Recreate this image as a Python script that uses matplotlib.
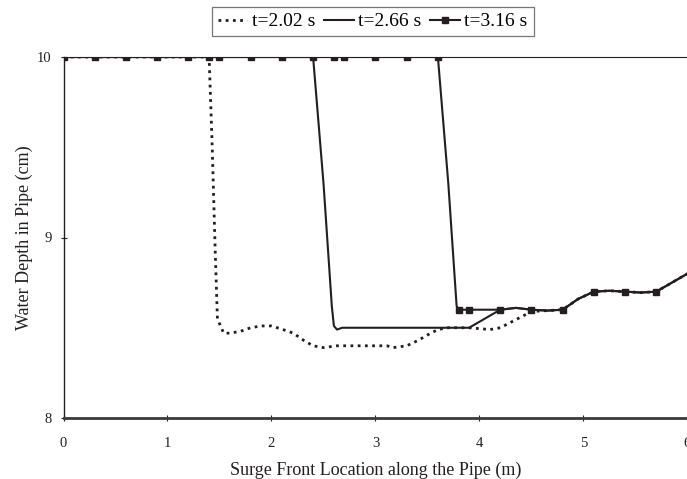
import matplotlib
matplotlib.use("Agg")
import matplotlib.pyplot as plt

plt.rcParams['font.family'] = ['Liberation Serif', 'DejaVu Serif']

# t = 2.02 s (dotted)
x202 = [0.0, 0.3, 0.6, 0.9, 1.2, 1.40, 1.43, 1.46, 1.48, 1.54, 1.60, 1.70, 1.80, 1.90, 2.00, 2.11,
        2.21, 2.31, 2.40, 2.50, 2.63, 2.80, 3.00, 3.11, 3.17, 3.30, 3.41, 3.50, 3.60, 3.70, 3.90,
        4.10, 4.20, 4.30, 4.40, 4.50, 4.65, 4.80, 4.95, 5.10, 5.25, 5.40, 5.55, 5.70, 5.85, 6.00]
y202 = [10.0, 10.0, 10.0, 10.0, 10.0, 10.0, 9.5, 8.9, 8.55, 8.47, 8.47, 8.48, 8.50, 8.51, 8.51, 8.49,
        8.47, 8.43, 8.40, 8.39, 8.40, 8.40, 8.40, 8.40, 8.39, 8.40, 8.43, 8.46, 8.49, 8.50, 8.50,
        8.49, 8.50, 8.53, 8.56, 8.59, 8.595, 8.60, 8.66, 8.70, 8.705, 8.70, 8.695, 8.70, 8.75, 8.80]

# t = 2.66 s (solid)
x266 = [0.0, 0.6, 1.2, 1.8, 2.4, 2.50, 2.58, 2.60, 2.63, 2.68, 3.00, 3.50, 3.90, 4.05, 4.20,
        4.35, 4.50, 4.65, 4.80, 4.95, 5.10, 5.25, 5.40, 5.55, 5.70, 5.85, 6.00]
y266 = [10.0, 10.0, 10.0, 10.0, 10.0, 9.3, 8.62, 8.51, 8.49, 8.50, 8.50, 8.50, 8.50, 8.55, 8.60,
        8.61, 8.60, 8.595, 8.60, 8.66, 8.70, 8.705, 8.70, 8.695, 8.70, 8.75, 8.80]

# t = 3.16 s (solid with square markers)
x316 = [0.0, 0.3, 0.6, 0.9, 1.2, 1.4, 1.5, 1.8, 2.1, 2.4, 2.6, 2.7, 3.0, 3.3, 3.6, 3.70, 3.78,
        3.8, 3.9, 4.2, 4.35, 4.5, 4.65, 4.8, 4.95, 5.1, 5.25, 5.4, 5.55, 5.7, 5.85, 6.0]
y316 = [10.0, 10.0, 10.0, 10.0, 10.0, 10.0, 10.0, 10.0, 10.0, 10.0, 10.0, 10.0, 10.0, 10.0, 10.0, 9.3, 8.62,
        8.60, 8.60, 8.60, 8.61, 8.60, 8.595, 8.60, 8.66, 8.70, 8.705, 8.70, 8.695, 8.70, 8.75, 8.80]
marker_x316 = [0.0, 0.3, 0.6, 0.9, 1.2, 1.4, 1.5, 1.8, 2.1, 2.4, 2.6, 2.7, 3.0, 3.3, 3.6,
               3.8, 3.9, 4.2, 4.5, 4.8, 5.1, 5.4, 5.7]

xticks = [0, 1, 2, 3, 4, 5, 6]
yticks = [8, 9, 10]
xlabel = "Surge Front Location along the Pipe (m)"
ylabel = "Water Depth in Pipe (cm)"
labels = ["t=2.02 s", "t=2.66 s", "t=3.16 s"]

col = '#231f20'
fig = plt.figure(figsize=(6.87, 4.79), dpi=100)
ax = fig.add_axes([63.5 / 687, 1 - 418 / 479, (687.5 - 63.5) / 687, (418 - 57) / 479])

marker_idx = [i for i, v in enumerate(x316)
              if v in marker_x316 and (y316[i] == 10.0 or v >= 3.8)]

l1, = ax.plot(x202, y202, color=col, lw=2.0, linestyle=(0, (1, 1.6)), label=labels[0], zorder=3)
l2, = ax.plot(x266, y266, color=col, lw=1.5, label=labels[1], zorder=4)
l3, = ax.plot(x316, y316, color=col, lw=1.5, marker='s', markersize=4,
              markevery=marker_idx, label=labels[2], zorder=5)

ax.set_xlim(0, 6)
ax.set_ylim(8, 10)
ax.set_xticks(xticks)
ax.set_yticks(yticks)
ax.tick_params(axis='both', direction='inout', length=5, width=0.8, colors=col,
               labelsize=10.5)
ax.tick_params(axis='x', pad=11)
ax.tick_params(axis='y', pad=6)

ax.spines['right'].set_visible(False)
ax.spines['top'].set_linewidth(0.8)
ax.spines['top'].set_color(col)
ax.spines['left'].set_linewidth(1.0)
ax.spines['left'].set_color(col)
ax.spines['bottom'].set_linewidth(2.0)
ax.spines['bottom'].set_color('#3a3a3a')

ax.set_xlabel(xlabel, fontsize=13, color=col, labelpad=8.5)
ax.set_ylabel(ylabel, fontsize=13, color=col, labelpad=3)

leg = fig.legend(handles=[l1, l2, l3], labels=labels, loc='center',
                 bbox_to_anchor=(373 / 687, 1 - 21.5 / 479), ncol=3, frameon=True,
                 fancybox=False, edgecolor='#555555', fontsize=14, handlelength=1.5,
                 handletextpad=0.25, columnspacing=0.45, borderpad=0.3, borderaxespad=0)
leg.get_frame().set_linewidth(0.9)

fig.savefig("out.png", dpi=100)
